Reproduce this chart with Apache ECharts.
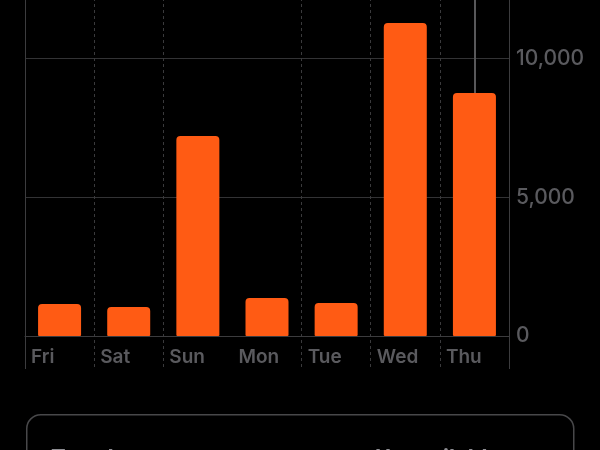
<!DOCTYPE html>
<html>
<head>
<meta charset="utf-8">
<script src="https://cdn.jsdelivr.net/npm/echarts@6/dist/echarts.min.js"></script>
<style>
html,body{margin:0;padding:0;background:#000;}
#chart{width:600px;height:450px;}
</style>
</head>
<body>
<div id="chart"></div>
<script>
const days = ['Fri', 'Sat', 'Sun', 'Mon', 'Tue', 'Wed', 'Thu'];
const steps = [1150, 1050, 7210, 1370, 1190, 11290, 8760];
const selectedDay = 'Thu';
const yMax = 15000;
const yStep = 5000;
const footerLeft = 'Trends';
const footerRight = 'Unavailable';

const FONT = 'Inter, Roboto, "Noto Sans", sans-serif';
const sel = days.indexOf(selectedDay);

const chart = echarts.init(document.getElementById('chart'));
chart.setOption({
  backgroundColor: '#000000',
  animation: false,
  grid: [
    { left: 25, right: 91, top: -80, bottom: 114, outerBoundsMode: 'none', containLabel: false },
    { left: 25, right: 91, top: -80, bottom: 81, outerBoundsMode: 'none', containLabel: false },
    { left: 25, right: 91, top: -80, bottom: 81, outerBoundsMode: 'none', containLabel: false }
  ],
  xAxis: [
    {
      type: 'category', gridIndex: 0, data: days, boundaryGap: true,
      axisLine: { show: true, lineStyle: { color: '#3c3c3e', width: 1 } },
      axisTick: { show: false },
      axisLabel: {
        margin: 12,
        formatter: v => '{d|' + v + '}',
        rich: { d: { width: 57, align: 'left', color: '#5a5a5e', fontSize: 19, fontWeight: 600, fontFamily: FONT } }
      },
      splitLine: { show: true, interval: (i) => i === 0, lineStyle: { color: '#3c3c3e', width: 1, type: 'solid' } }
    },
    {
      type: 'category', gridIndex: 1, data: days, boundaryGap: true,
      axisLine: { show: false }, axisTick: { show: false }, axisLabel: { show: false },
      splitLine: { show: true, interval: (i) => i !== 0 && i !== 3, lineStyle: { color: '#3a3a3c', width: 1, type: [3, 3] } }
    },
    {
      type: 'category', gridIndex: 2, data: days, boundaryGap: true,
      axisLine: { show: false }, axisTick: { show: false }, axisLabel: { show: false },
      splitLine: { show: true, interval: (i) => i === 3, lineStyle: { color: '#3c3c3e', width: 1, type: 'solid' } }
    }
  ],
  yAxis: [
    {
      type: 'value', gridIndex: 0, position: 'right', min: 0, max: yMax, interval: yStep,
      axisLine: { show: false }, axisTick: { show: false },
      axisLabel: {
        margin: 7, color: '#5a5a5e', fontSize: 21, fontWeight: 500, fontFamily: FONT,
        padding: [7, 0, 0, 0],
        formatter: v => v.toLocaleString('en-US')
      },
      splitLine: { show: true, lineStyle: { color: '#333335', width: 1 } }
    },
    { type: 'value', gridIndex: 1, show: false, min: 0, max: 1 },
    { type: 'value', gridIndex: 2, show: false, min: 0, max: 1 }
  ],
  series: [
    {
      type: 'bar', xAxisIndex: 0, yAxisIndex: 0, data: steps, barWidth: 43,
      itemStyle: { color: '#FF5B14', borderRadius: [4, 4, 1, 1] },
      z: 3,
      markLine: {
        silent: true, symbol: ['none', 'none'], label: { show: false },
        lineStyle: { color: '#58585a', width: 2, type: 'solid' },
        data: [[{ coord: [sel, steps[sel]] }, { coord: [sel, yMax] }]]
      }
    }
  ],
  graphic: [
    {
      type: 'rect', left: 26, top: 414,
      shape: { width: 547, height: 80, r: 14 },
      style: { fill: 'transparent', stroke: '#48484a', lineWidth: 1.5 }
    },
    {
      type: 'text', left: 51, top: 447,
      style: { text: footerLeft, fill: '#8e8e93', fontSize: 22, fontWeight: 700, fontFamily: FONT }
    },
    {
      type: 'text', left: 375, top: 447,
      style: { text: footerRight, fill: '#8e8e93', fontSize: 22, fontWeight: 700, fontFamily: FONT }
    }
  ]
});
</script>
</body>
</html>
